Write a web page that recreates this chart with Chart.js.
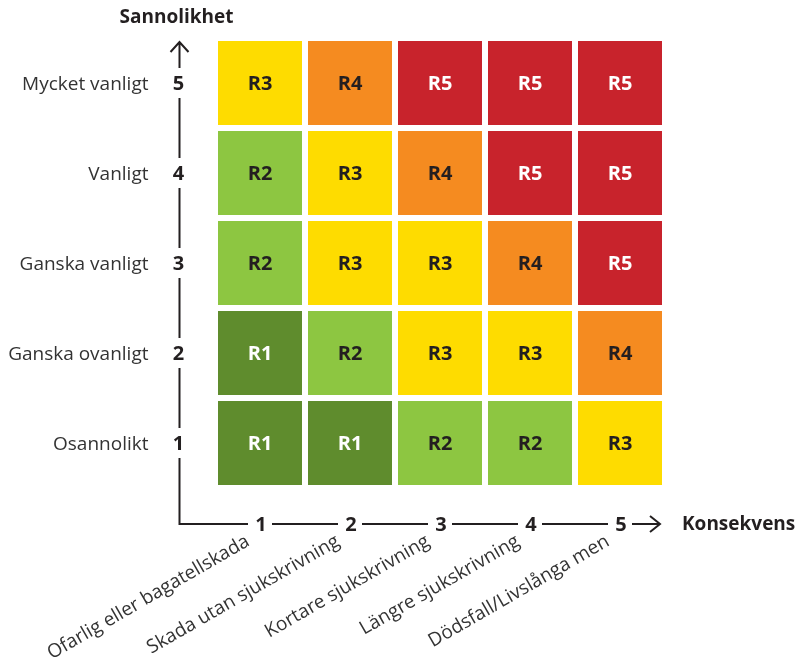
<!DOCTYPE html>
<html>
<head>
<meta charset="utf-8">
<script src="https://cdn.jsdelivr.net/npm/chart.js@4/dist/chart.umd.min.js"></script>
<style>
html,body{margin:0;padding:0;background:#fff;}
#wrap{width:798px;height:662px;position:relative;}
</style>
</head>
<body>
<div id="wrap"><canvas id="c" width="798" height="662"></canvas></div>
<script>
// ---- Data ----
const consequenceTicks = ['1', '2', '3', '4', '5'];
const consequenceLabels = ['Ofarlig eller bagatellskada', 'Skada utan sjukskrivning', 'Kortare sjukskrivning', 'Längre sjukskrivning', 'Dödsfall/Livslånga men'];
const likelihoodTicks = ['1', '2', '3', '4', '5'];
const likelihoodLabels = ['Osannolikt', 'Ganska ovanligt', 'Ganska vanligt', 'Vanligt', 'Mycket vanligt'];
// Risk level per consequence (1..5) for each likelihood row
const riskOsannolikt      = [1, 1, 2, 2, 3];
const riskGanskaOvanligt  = [1, 2, 3, 3, 4];
const riskGanskaVanligt   = [2, 3, 3, 4, 5];
const riskVanligt         = [2, 3, 4, 5, 5];
const riskMycketVanligt   = [3, 4, 5, 5, 5];
const cellHeight = [1, 1, 1, 1, 1];
const xTitle = 'Konsekvens';
const yTitle = 'Sannolikhet';

const riskRows = [riskOsannolikt, riskGanskaOvanligt, riskGanskaVanligt, riskVanligt, riskMycketVanligt];
const riskColors = {1: '#5F8C2D', 2: '#8DC641', 3: '#FEDC00', 4: '#F58B20', 5: '#C8232C'};
const riskText = {1: '#ffffff', 2: '#231F20', 3: '#231F20', 4: '#231F20', 5: '#ffffff'};

const FONT = '"Open Sans", "Noto Sans", sans-serif';
const INK = '#231F20';

const decor = {
  id: 'decor',
  afterDatasetsDraw(chart) {
    const ctx = chart.ctx;
    ctx.save();
    ctx.font = 'bold 20px ' + FONT;
    ctx.textAlign = 'center';
    ctx.textBaseline = 'middle';
    chart.data.datasets.forEach((ds, di) => {
      const meta = chart.getDatasetMeta(di);
      meta.data.forEach((bar, i) => {
        const lvl = riskRows[di][i];
        ctx.fillStyle = riskText[lvl];
        ctx.fillText('R' + lvl, bar.x, (bar.y + bar.base) / 2 + 1);
      });
    });
    ctx.restore();
  },
  afterDraw(chart) {
    const ctx = chart.ctx;
    const area = chart.chartArea;
    const xs = chart.scales.x, ys = chart.scales.y;
    const axY = area.bottom + 36;
    const axX = area.left - 35.5;
    const xc = consequenceTicks.map((t, i) => xs.getPixelForValue(i));
    const yc = likelihoodTicks.map((t, i) => ys.getPixelForValue(i + 0.5));
    ctx.save();
    ctx.strokeStyle = INK;
    ctx.lineWidth = 2;
    ctx.lineCap = 'butt';
    // horizontal axis with gaps
    ctx.beginPath();
    let px = axX - 1;
    xc.forEach(x => { ctx.moveTo(px, axY); ctx.lineTo(x - 12, axY); px = x + 12; });
    const endX = xc[xc.length - 1] + 40;
    ctx.moveTo(px, axY); ctx.lineTo(endX, axY);
    ctx.moveTo(endX - 10, axY - 8); ctx.lineTo(endX, axY); ctx.lineTo(endX - 10, axY + 8);
    // vertical axis with gaps
    let py = axY;
    yc.forEach(y => { ctx.moveTo(axX, py); ctx.lineTo(axX, y + 15); py = y - 15; });
    const topY = area.top + 4;
    ctx.moveTo(axX, py); ctx.lineTo(axX, topY);
    ctx.moveTo(axX - 9, topY + 10); ctx.lineTo(axX, topY); ctx.lineTo(axX + 9, topY + 10);
    ctx.stroke();

    // tick numbers
    ctx.fillStyle = INK;
    ctx.font = 'bold 20px ' + FONT;
    ctx.textAlign = 'center';
    ctx.textBaseline = 'middle';
    xc.forEach((x, i) => ctx.fillText(consequenceTicks[i], x + 1, axY + 1));
    yc.forEach((y, i) => ctx.fillText(likelihoodTicks[i], axX - 1, y + 1));

    // titles
    ctx.font = 'bold 19px ' + FONT;
    ctx.fillText(yTitle, axX - 3, 18);
    ctx.textAlign = 'left';
    ctx.fillText(xTitle, endX + 22, axY + 1);

    // likelihood labels
    ctx.fillStyle = '#333333';
    ctx.font = '19px ' + FONT;
    ctx.textAlign = 'right';
    yc.forEach((y, i) => ctx.fillText(likelihoodLabels[i], axX - 31, y + 2));

    // rotated consequence labels
    xc.forEach((x, i) => {
      ctx.save();
      ctx.translate(x - 12, axY + 16);
      ctx.rotate(-Math.PI / 6);
      ctx.textAlign = 'right';
      ctx.textBaseline = 'middle';
      ctx.fillText(consequenceLabels[i], 0, 0);
      ctx.restore();
    });
    ctx.restore();
  }
};

new Chart(document.getElementById('c'), {
  type: 'bar',
  data: {
    labels: consequenceTicks,
    datasets: riskRows.map((row, i) => ({
      label: likelihoodLabels[i],
      data: cellHeight,
      backgroundColor: row.map(v => riskColors[v]),
      borderColor: '#ffffff',
      borderWidth: 3,
      borderSkipped: false,
      inflateAmount: 0,
      barPercentage: 1,
      categoryPercentage: 1
    }))
  },
  options: {
    responsive: false,
    animation: false,
    devicePixelRatio: 1,
    layout: {padding: {left: 215, right: 133, top: 38, bottom: 174}},
    plugins: {legend: {display: false}, tooltip: {enabled: false}},
    scales: {
      x: {stacked: true, display: false},
      y: {stacked: true, display: false, min: 0, max: 5}
    }
  },
  plugins: [decor]
});
</script>
</body>
</html>
